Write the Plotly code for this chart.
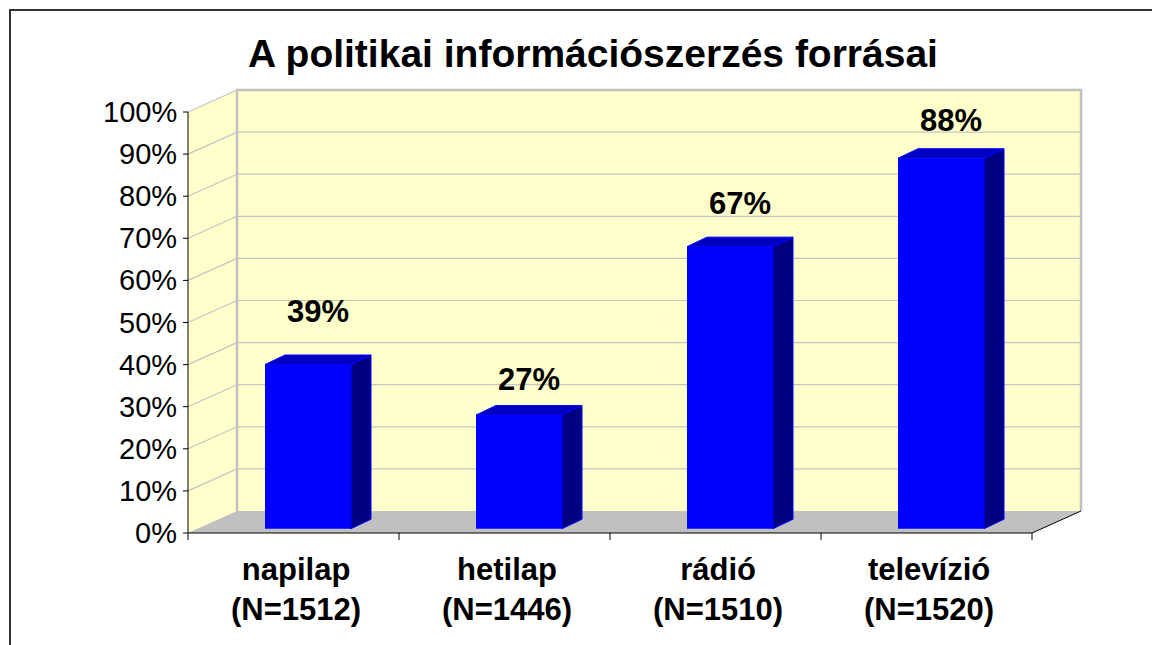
import plotly.graph_objects as go

# ---------------- data ----------------
categories = ["napilap", "hetilap", "rádió", "televízió"]
sample_sizes = [1512, 1446, 1510, 1520]
values = [39, 27, 67, 88]
value_labels = ["39%", "27%", "67%", "88%"]
y_ticks = [0, 10, 20, 30, 40, 50, 60, 70, 80, 90, 100]
y_tick_labels = ["0%", "10%", "20%", "30%", "40%", "50%", "60%", "70%", "80%", "90%", "100%"]
title_text = "A politikai információszerzés forrásai"

# ---------------- layout constants (page pixels) ----------------
W, H = 1160, 645
PAGE_OFF = 8                     # default body margin of the html page
X0_PX, Y0_PX = 188, 533          # front-left corner of the floor (0%)
CAT_PX = 211                     # width of one category on the front plane
PCT_PX = 4.21                    # pixels per percent
WALL_DX, WALL_DY = 49, 22        # 3D depth of the walls
BAR_W_PX = 86
BAR_OFF_X_PX = 14.5
BAR_OFF_Y_PX = 4.3
BAR_DX, BAR_DY = 20, 9.5         # 3D depth of the bars
LABEL_LIFT_PX = [44, 26, 34, 28]
PLOT_L, PLOT_R, PLOT_T, PLOT_B = 165, 1095, 80, 555

FONT = "Arial, 'Liberation Sans', sans-serif"
WALL = "#FFFFCC"
GRID = "#C4C4C4"
FLOOR = "#C0C0C0"


def ux(px):
    return px / CAT_PX


def uy(px):
    return px / PCT_PX


def X(px):
    return (px - X0_PX) / CAT_PX - 0.5


def Y(py):
    return (Y0_PX - py) / PCT_PX


def PX(px):
    return (px - PLOT_L) / (PLOT_R - PLOT_L)


def PY(py):
    return (PLOT_B - py) / (PLOT_B - PLOT_T)


n = len(categories)
xl0, xr0 = -0.5, n - 0.5
wdx, wdy = ux(WALL_DX), uy(WALL_DY)
top = y_ticks[-1]

fig = go.Figure()


def poly(xs, ys, fill, line_color=None, line_width=0):
    fig.add_trace(go.Scatter(
        x=xs, y=ys, mode="lines", fill="toself", fillcolor=fill,
        line=dict(color=line_color or fill, width=line_width),
        hoverinfo="skip", showlegend=False))


def lines(xs, ys, color, width):
    fig.add_trace(go.Scatter(
        x=xs, y=ys, mode="lines", line=dict(color=color, width=width),
        hoverinfo="skip", showlegend=False))


# walls and floor
poly([xl0 + wdx, xr0 + wdx, xr0 + wdx, xl0 + wdx], [wdy, wdy, top + wdy, top + wdy], WALL)
poly([xl0, xl0 + wdx, xl0 + wdx, xl0], [0, wdy, top + wdy, top], WALL)
poly([xl0, xr0, xr0 + wdx, xl0 + wdx], [0, 0, wdy, wdy], FLOOR)

# gridlines
gx, gy = [], []
for t in y_ticks[1:-1]:
    gx += [xl0 + wdx, xr0 + wdx, None]
    gy += [t + wdy, t + wdy, None]
for t in y_ticks[1:]:
    gx += [xl0, xl0 + wdx, None]
    gy += [t, t + wdy, None]
lines(gx, gy, GRID, 1.2)

# back wall frame
lines([xl0 + wdx, xl0 + wdx, xr0 + wdx, xr0 + wdx],
      [wdy, top + wdy, top + wdy, wdy], "#C0C0C0", 2.5)

# axes lines
lines([xl0, xl0, None, xl0, xr0, xr0 + wdx], [top, 0, None, 0, 0, wdy], "black", 1)

# tick marks
tx, ty = [], []
for t in y_ticks:
    tx += [xl0 - ux(5), xl0, None]
    ty += [t, t, None]
for b in range(n + 1):
    tx += [b - 0.5, b - 0.5, None]
    ty += [0, -uy(7), None]
lines(tx, ty, "black", 1)

# bars (3D)
bw, bdx, bdy = ux(BAR_W_PX), ux(BAR_DX), uy(BAR_DY)
yb = uy(BAR_OFF_Y_PX)
sx, sy, tpx, tpy, fx, fy = [], [], [], [], [], []
for i, v in enumerate(values):
    xl = i + ux(BAR_OFF_X_PX) - bw / 2
    xr = xl + bw
    yt = yb + v
    sx += [xr, xr + bdx, xr + bdx, xr, xr, None]
    sy += [yb, yb + bdy, yt + bdy, yt, yb, None]
    tpx += [xl, xr, xr + bdx, xl + bdx, xl, None]
    tpy += [yt, yt, yt + bdy, yt + bdy, yt, None]
    fx += [xl, xr, xr, xl, xl, None]
    fy += [yb, yb, yt, yt, yb, None]
poly(sx, sy, "#000080", "#0000FF", 1)
poly(tpx, tpy, "#0000C0", "#0000FF", 1)
poly(fx, fy, "#0000FF")

annotations = []
# value labels
for i, v in enumerate(values):
    annotations.append(dict(
        x=i + ux(BAR_OFF_X_PX) + bdx / 2, y=yb + v + bdy, xref="x", yref="y",
        text=f"<b>{value_labels[i]}</b>", showarrow=False,
        xanchor="center", yanchor="middle", yshift=LABEL_LIFT_PX[i],
        font=dict(family=FONT, size=31, color="black")))

# y tick labels
for t, lab in zip(y_ticks, y_tick_labels):
    annotations.append(dict(
        x=xl0, y=t, xref="x", yref="y", text=lab, showarrow=False,
        xanchor="right", yanchor="middle", xshift=-9,
        font=dict(family=FONT, size=29, color="black")))

# category labels
for i, (c, nn) in enumerate(zip(categories, sample_sizes)):
    annotations.append(dict(
        x=i + ux(2), y=PY(589), xref="x", yref="paper",
        text=f"<b>{c}</b><br><b>(N={nn})</b>", showarrow=False,
        xanchor="center", yanchor="middle",
        font=dict(family=FONT, size=31, color="black")))

# title
annotations.append(dict(
    x=PX(592.5), y=PY(53), xref="paper", yref="paper",
    text=f"<b>{title_text}</b>", showarrow=False,
    xanchor="center", yanchor="middle",
    font=dict(family=FONT, size=39, color="black")))

fig.update_layout(
    width=W, height=H,
    margin=dict(l=PLOT_L - PAGE_OFF, r=W - (PLOT_R - PAGE_OFF),
                t=PLOT_T - PAGE_OFF, b=H - (PLOT_B - PAGE_OFF), pad=0),
    paper_bgcolor="white", plot_bgcolor="white",
    showlegend=False,
    xaxis=dict(range=[X(PLOT_L), X(PLOT_R)], visible=False, fixedrange=True),
    yaxis=dict(range=[Y(PLOT_B), Y(PLOT_T)], visible=False, fixedrange=True),
    annotations=annotations,
    shapes=[dict(type="rect", xref="paper", yref="paper",
                 x0=PX(10), x1=PX(1170), y0=PY(660), y1=PY(10),
                 line=dict(color="#333333", width=2), fillcolor="rgba(0,0,0,0)")],
)

fig.write_html("out.html")
